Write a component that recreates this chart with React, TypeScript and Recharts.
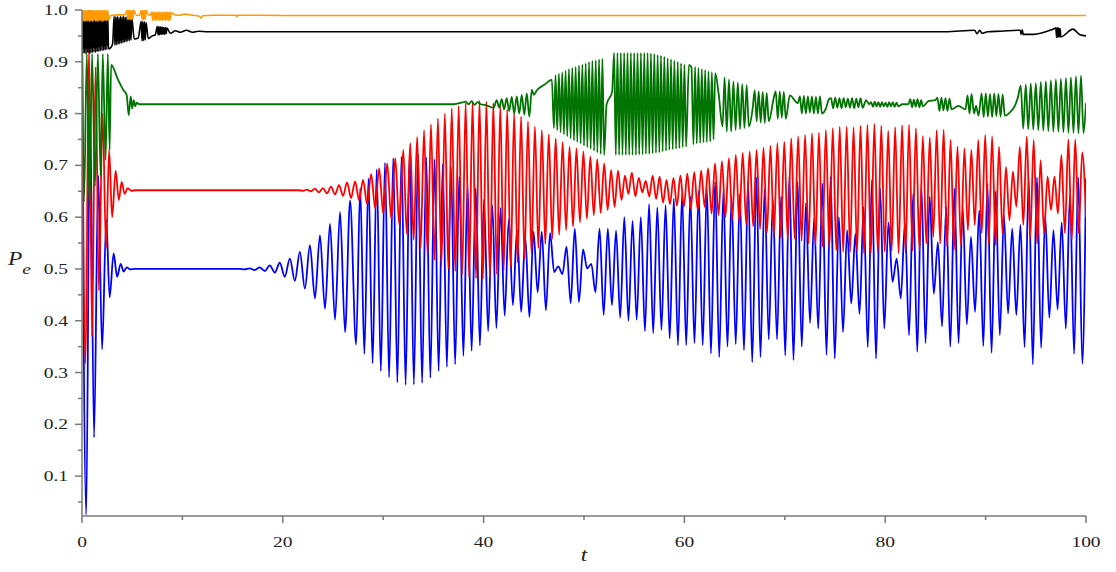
import { LineChart, Line, XAxis, YAxis } from "recharts";

type Knot = [number, number];
type Run = [number, number, number[]]; // first time, spacing, successive extremes

// ---- blue ----
const blueKnots: Knot[] = [
  [0, 0.85], [0.42, 0.025], [0.8, 0.82], [1.2, 0.175], [1.62, 0.68], [2.0, 0.345],
  [2.42, 0.595], [2.75, 0.445], [3.15, 0.53], [3.5, 0.485], [3.85, 0.51], [4.15, 0.495],
  [4.45, 0.503], [4.8, 0.499], [5.2, 0.5], [15.7, 0.5], [100, 0.675],
];
const blueRuns: Run[] = [
  [16.2, 0.5, [
    .499, .501, .498, .503, .496, .507, .493, .512, .485, .520, .477, .533, .462, .546,
    .443, .565, .423, .587, .402, .610, .378, .632,
  ]],
  [27.3, 0.411, [
    .354, .656, .336, .675, .318, .692, .303, .705, .291, .714, .281, .717, .276, .722,
    .277, .721, .280, .716, .290, .712, .303, .703, .311, .697, .316, .678, .332, .662,
    .342, .656, .352, .635, .380, .623, .386, .618, .410, .596, .430, .576, .417, .562,
    .407, .572, .455, .572, .420, .569, .494, .505, .490, .543, .434, .578, .436, .538,
    .501, .510, .455, .578, .411, .578, .430, .574, .406, .600, .400, .593, .402, .600,
    .380, .625, .376, .619, .382, .623, .366, .636, .353, .645, .353, .640, .357, .650,
    .353, .655, .337, .668, .330, .650, .350, .640, .355, .645, .343, .670, .320, .677,
    .330, .655, .364, .635, .364, .640, .333, .678, .324, .668, .350, .627, .396, .598,
    .385, .665, .334, .678, .327, .600, .378, .575, .433, .568, .413, .620, .349, .672,
    .327, .655, .385, .590, .475, .520, .443, .588, .372, .645, .340, .660, .357, .640,
    .452, .552, .389, .620, .350, .655, .357, .620, .393, .562, .417, .613, .351, .664,
    .338, .650, .372, .604, .414, .578, .411, .585, .349, .675, .316, .677, .348, .604,
    .406, .575, .422, .590, .385, .643, .336, .677, .317,
  ]],
];

// ---- red ----
const redKnots: Knot[] = [
  [0, 0.95], [0.35, 0.317], [0.7, 0.93], [1.0, 0.37], [1.35, 0.89], [1.68, 0.458],
  [2.05, 0.8], [2.4, 0.54], [2.7, 0.73], [3.0, 0.6], [3.35, 0.69], [3.67, 0.633],
  [3.95, 0.668], [4.25, 0.645], [4.55, 0.656], [4.9, 0.651], [5.3, 0.652], [20.4, 0.652],
  [100, 0.6],
];
const redRuns: Run[] = [
  [20.8, 0.4, [
    .652, .652, .652, .651, .653, .650, .655, .648, .656, .646, .659, .644, .662, .641,
    .667, .637, .669, .633, .672, .625, .683, .617, .694, .607, .704, .597, .714, .585,
  ]],
  [32.0, 0.345, [
    .730, .568, .743, .556, .755, .540, .768, .527, .779, .517, .790, .507, .800, .500,
    .810, .496, .815, .490, .820, .485, .823, .482, .825, .481, .823, .484, .820, .490,
    .815, .497, .808, .504, .800, .512, .794, .520, .785, .530, .775, .540, .768, .548,
    .760, .558, .752, .566, .745, .575, .736, .582, .733, .590, .727, .597, .717, .604,
    .712, .608, .704, .614, .691, .620, .690, .633, .680, .645, .686, .640, .676, .648,
    .670, .640, .680, .635, .678, .628, .672, .625, .676, .622, .680, .620, .684, .617,
    .687, .614, .690, .620, .694, .607, .704, .604, .708, .600, .714, .597, .720, .590,
    .724, .586, .727, .582, .730, .577, .734, .570, .738, .564, .743, .560, .746, .557,
    .752, .558, .756, .554, .759, .549, .762, .546, .763, .543, .768, .540, .772, .536,
    .775, .533, .775, .533, .774, .533, .776, .530, .778, .530, .780, .532, .776, .533,
    .767, .535, .774, .530, .777, .532, .778, .535, .772, .536, .757, .549, .754, .562,
    .768, .549, .769, .543, .749, .536, .736, .545, .733, .575, .730, .585, .749, .569,
    .759, .549, .756, .546, .736, .569, .697, .594, .688, .620, .736, .585, .756, .559,
    .749, .549, .710, .569, .678, .614, .678, .607, .720, .569, .750, .556, .750, .569,
    .725,
  ]],
];

// ---- green ----
const greenKnots: Knot[] = [
  [0, 0.99], [0.2, 0.63], [0.48, 0.915], [0.75, 0.62], [1.0, 0.915], [1.3, 0.66],
  [1.58, 0.915], [1.85, 0.68], [2.07, 0.915], [2.35, 0.71], [2.57, 0.915], [2.75, 0.73],
  [2.9, 0.894], [3.6, 0.865], [4.1, 0.846], [4.45, 0.836], [4.65, 0.797], [4.85, 0.833],
  [5.0, 0.81], [5.15, 0.826], [5.3, 0.814], [5.45, 0.821], [5.7, 0.818], [37.0, 0.818],
  [37.8, 0.821], [38.2, 0.823], [38.5, 0.818], [38.8, 0.824], [39.1, 0.817], [39.4, 0.822],
  [39.7, 0.818], [40.3, 0.816], [41.0, 0.811],
  [44.8, 0.846], [45.0, 0.836], [45.3, 0.845], [46.0, 0.855], [46.8, 0.865],
  [52.25, 0.818], [52.8, 0.842], [60.45, 0.894], [60.7, 0.89], [63.4, 0.84], [63.8, 0.775],
  [66.8, 0.81], [68.9, 0.83], [70.5, 0.835], [71.3, 0.82], [74.1, 0.81], [74.4, 0.828],
  [78.1, 0.826], [78.4, 0.818], [81.7, 0.818], [82.3, 0.818], [84.3, 0.824], [85.0, 0.826],
  [87.3, 0.815], [88.0, 0.808], [88.2, 0.835], [88.4, 0.8], [88.6, 0.838], [88.85, 0.8],
  [89.05, 0.815], [89.3, 0.796], [92.3, 0.8], [93.2, 0.83], [100, 0.82],
];
const greenRuns: Run[] = [
  [41.3, 0.25, [.826, .812, .828, .808, .830, .805, .832, .800, .833, .800, .836, .798, .839, .794]],
  [47.0, 0.1667, [
    .772, .874, .768, .877, .764, .880, .760, .883, .756, .886, .752, .888, .748, .890,
    .745, .893, .742, .895, .738, .897, .735, .900, .732, .902, .728, .903, .725, .905,
    .722, .906, .720,
  ]],
  [53.0, 0.1667, [
    .917, .720, .917, .720, .917, .720, .917, .720, .917, .720, .917, .720, .917, .720,
    .917, .721, .917, .721, .917, .722, .917, .722, .916, .723, .915, .724, .913, .725,
    .912, .727, .910, .728, .907, .730, .905, .731, .902, .732, .900, .733, .897, .735,
    .895, .736,
  ]],
  [60.9, 0.1667, [.740, .890, .742, .888, .743, .886, .744, .884, .745, .882, .746, .880, .750, .878]],
  [64.0, 0.22, [.870, .765, .866, .765, .862, .768, .860, .770, .857, .772, .855, .775]],
  [67.0, 0.2, [.845, .785, .843, .783, .842, .782, .840, .785]],
  [69.1, 0.2, [.843, .790, .843, .792, .842, .790]],
  [71.5, 0.2, [.833, .800, .834, .800, .833, .802, .833, .800, .832, .800, .833, .800]],
  [74.6, 0.21, [.830, .810, .831, .811, .830, .810, .830, .812, .829, .811, .830, .810, .829, .812, .830, .811]],
  [78.6, 0.18, [.822, .813, .823, .814, .822, .813, .822, .814, .821, .813, .822, .814, .822, .813, .821, .814]],
  [82.5, 0.18, [.828, .812, .827, .813, .828, .812, .826, .814]],
  [85.2, 0.2, [.831, .805, .831, .806, .830, .805, .829, .808]],
  [89.6, 0.21, [.839, .793, .839, .794, .838, .793, .839, .795, .838, .794, .837, .796]],
  [93.5, 0.25, [
    .854, .771, .856, .770, .858, .769, .859, .768, .861, .767, .862, .766, .864, .765,
    .866, .765, .867, .764, .869, .763, .870, .763, .872, .762, .873, .762,
  ]],
];

// ---- black ----
const blackKnots: Knot[] = [
  [2.9, 0.928], [3.05, 0.935], [5.2, 0.944], [5.6, 0.946], [6.6, 0.945], [7.0, 0.95],
  [7.3, 0.952], [8.8, 0.955], [9.3, 0.96], [9.8, 0.957], [10.4, 0.961], [11.0, 0.957],
  [11.6, 0.959], [12.5, 0.958], [86.0, 0.958], [88.9, 0.961], [89.15, 0.954], [89.4, 0.961],
  [89.65, 0.955], [90.2, 0.958], [91.5, 0.959], [93.45, 0.961], [93.55, 0.953], [93.65, 0.962],
  [93.75, 0.953], [94.8, 0.953], [96.6, 0.962], [98.7, 0.963], [99.4, 0.952], [100, 0.95],
];
const blackRuns: Run[] = [
  [0, 0.08, [
    .995, .916, .998, .917, .990, .915, .997, .918, .993, .916, .999, .917, .992, .918,
    .996, .919, .994, .918, .998, .920, .991, .920, .996, .921, .993, .922, .997, .922,
    .990, .923, .995, .924, .992, .925,
  ]],
  [3.2, 0.08, [
    .988, .932, .987, .933, .988, .934, .986, .935, .988, .936, .987, .937, .988, .938,
    .986, .939, .987, .940, .986, .941, .987, .942, .985,
  ]],
  [5.9, 0.08, [.978, .940, .978, .941, .977, .942, .976]],
  [7.5, 0.08, [.968, .952, .968, .952, .967, .953, .967, .953, .966, .953, .966, .954, .965]],
  [97.0, 0.07, [.965, .947, .966, .947, .965, .948, .964, .948]],
];

// ---- orange ----
const orangeKnots: Knot[] = [
  [2.9, 0.99], [4.3, 0.991], [5.4, 0.99], [5.75, 0.99], [6.6, 0.991], [6.8, 0.99],
  [9.2, 0.991], [9.7, 0.99], [10.2, 0.992], [11.0, 0.99], [11.7, 0.988], [11.85, 0.984],
  [12.0, 0.989], [13.0, 0.99], [15.3, 0.99], [15.4, 0.987], [15.5, 0.99], [20, 0.9895],
  [100, 0.9895],
];
const orangeRuns: Run[] = [
  [0, 0.08, [
    1.0, .978, 1.0, .979, .999, .978, 1.0, .980, 1.0, .978, .999, .979, 1.0, .978,
    1.0, .980, .999, .979, 1.0, .978, 1.0, .979, .999, .980, 1.0, .978, 1.0, .979,
    1.0, .980, .999, .979, 1.0, .981,
  ]],
  [4.5, 0.08, [1.0, .981, 1.0, .982, 1.0, .981, .999, .982, 1.0]],
  [5.9, 0.08, [1.0, .982, 1.0, .981, .999, .982, 1.0]],
  [6.95, 0.08, [
    .996, .980, .996, .981, .995, .980, .996, .981, .995, .980, .996, .981, .995, .980,
    .996, .981, .995, .980, .996, .981, .995, .980, .996, .981, .995,
  ]],
];

const xTicks = [0, 10, 20, 30, 40, 50, 60, 70, 80, 90, 100];
const yTicks = [
  0.05, 0.1, 0.15, 0.2, 0.25, 0.3, 0.35, 0.4, 0.45, 0.5,
  0.55, 0.6, 0.65, 0.7, 0.75, 0.8, 0.85, 0.9, 0.95, 1.0,
];

function series(knots: Knot[], runs: Run[]) {
  const pts = knots.map(([t, v]) => ({ t, v }));
  for (const [t0, dt, vals] of runs) {
    vals.forEach((v, i) => pts.push({ t: Math.round((t0 + i * dt) * 1000) / 1000, v }));
  }
  return pts.sort((a, b) => a.t - b.t);
}

const AXIS = "#7a7a7a";
const FONT = "'Liberation Serif', 'Times New Roman', serif";

function YTick(props: any) {
  const { x, y, payload } = props;
  const v: number = payload.value;
  const major = Math.round(v * 100) % 10 === 0;
  return (
    <g>
      <line x1={x} x2={x - (major ? 7 : 4)} y1={y} y2={y} stroke={AXIS} strokeWidth={1.5} />
      {major && (
        <text
          transform={`translate(${x - 14},${y + 5}) scale(1.3,1)`}
          textAnchor="end"
          fontFamily={FONT}
          fontSize={15}
          fill="#222"
        >
          {v.toFixed(1)}
        </text>
      )}
    </g>
  );
}

function XTick(props: any) {
  const { x, y, payload } = props;
  const v: number = payload.value;
  const major = v % 20 === 0;
  return (
    <g>
      <line x1={x} x2={x} y1={y} y2={y + (major ? 7 : 4)} stroke={AXIS} strokeWidth={1.5} />
      {major && (
        <text
          transform={`translate(${x},${y + 31}) scale(1.3,1)`}
          textAnchor="middle"
          fontFamily={FONT}
          fontSize={15}
          fill="#222"
        >
          {v}
        </text>
      )}
    </g>
  );
}

const lines = [
  { key: "blue", color: "#0000ff", width: 1.8, data: series(blueKnots, blueRuns) },
  { key: "red", color: "#ff0000", width: 1.8, data: series(redKnots, redRuns) },
  { key: "green", color: "#007400", width: 1.8, data: series(greenKnots, greenRuns) },
  { key: "black", color: "#000000", width: 1.6, data: series(blackKnots, blackRuns) },
  { key: "orange", color: "#ff9a00", width: 1.6, data: series(orangeKnots, orangeRuns) },
];

export default function App() {
  return (
    <div style={{ position: "absolute", left: 0, top: 0, background: "#fff" }}>
      <LineChart width={1116} height={572} margin={{ top: 10, right: 30, bottom: 0, left: 0 }}>
        <XAxis
          dataKey="t"
          type="number"
          domain={[0, 100]}
          ticks={xTicks}
          interval={0}
          allowDataOverflow
          height={56}
          tickSize={0}
          tickMargin={0}
          tickLine={false}
          axisLine={{ stroke: AXIS, strokeWidth: 1.5 }}
          tick={<XTick />}
          label={{
            content: (p: any) => (
              <text
                transform={`translate(${p.viewBox.x + p.viewBox.width / 2},${p.viewBox.y + 45}) scale(1.3,1)`}
                textAnchor="middle"
                fontFamily={FONT}
                fontStyle="italic"
                fontSize={18}
                fill="#222"
              >
                t
              </text>
            ),
          }}
        />
        <YAxis
          type="number"
          domain={[0.023, 1.0]}
          ticks={yTicks}
          interval={0}
          allowDataOverflow
          width={82}
          tickSize={0}
          tickMargin={0}
          tickLine={false}
          axisLine={{ stroke: AXIS, strokeWidth: 1.5 }}
          tick={<YTick />}
          label={{
            content: (p: any) => (
              <text
                transform={`translate(${p.viewBox.x + 8},${p.viewBox.y + p.viewBox.height / 2 + 2}) scale(1.3,1)`}
                fontFamily={FONT}
                fontStyle="italic"
                fontSize={18}
                fill="#222"
              >
                P
                <tspan dy={9} fontSize={15}>e</tspan>
              </text>
            ),
          }}
        />
        {lines.map((l) => (
          <Line
            key={l.key}
            data={l.data}
            dataKey="v"
            type="monotone"
            stroke={l.color}
            strokeWidth={l.width}
            dot={false}
            activeDot={false}
            isAnimationActive={false}
          />
        ))}
      </LineChart>
    </div>
  );
}
